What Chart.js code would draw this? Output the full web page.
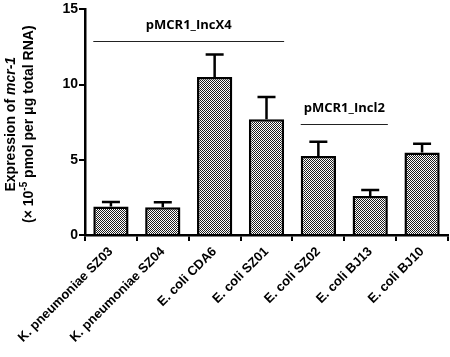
<!DOCTYPE html>
<html>
<head>
<meta charset="utf-8">
<script src="https://cdn.jsdelivr.net/npm/chart.js@4.4.1/dist/chart.umd.min.js"></script>
<style>
  body { margin: 0; background: #fff; }
  #wrap { width: 450px; height: 357px; position: relative; }
</style>
</head>
<body>
<div id="wrap"><canvas id="myChart"></canvas></div>
<script>
// strains and mcr-1 expression (x 10^-5 pmol per ug total RNA)
const strains = ['K. pneumoniae SZ03', 'K. pneumoniae SZ04', 'E. coli CDA6', 'E. coli SZ01', 'E. coli SZ02', 'E. coli BJ13', 'E. coli BJ10'];
const expression = [1.9, 1.84, 10.5, 7.7, 5.26, 2.59, 5.48];
const errUp = [0.3, 0.33, 1.5, 1.47, 0.94, 0.41, 0.59];

// plasmid groups drawn as lines over the bars
const groupNames = ['pMCR1_IncX4', 'pMCR1_Incl2'];
const groupFrom = [0, 4];
const groupTo = [3, 5];
const groupLine = [12.9, 7.41];
const groupText = [13.95, 8.4];

// fine checker fill like the original
function makePattern() {
  const c = document.createElement('canvas');
  c.width = 2; c.height = 2;
  const g = c.getContext('2d');
  g.fillStyle = '#ffffff';
  g.fillRect(0, 0, 2, 2);
  g.fillStyle = '#1e1e1e';
  g.fillRect(0, 0, 1, 1);
  g.fillRect(1, 1, 1, 1);
  return g.createPattern(c, 'repeat');
}

const errorBars = {
  id: 'errorBars',
  afterDatasetsDraw(chart) {
    const ctx = chart.ctx;
    const meta = chart.getDatasetMeta(0);
    const y = chart.scales.y;
    ctx.save();
    ctx.strokeStyle = '#000';
    ctx.lineWidth = 2.5;
    meta.data.forEach(function(bar, i) {
      const top = y.getPixelForValue(expression[i] + errUp[i]);
      ctx.beginPath();
      ctx.moveTo(bar.x, bar.y);
      ctx.lineTo(bar.x, top);
      ctx.moveTo(bar.x - 9, top);
      ctx.lineTo(bar.x + 9, top);
      ctx.stroke();
    });
    ctx.restore();
  }
};

const groupLines = {
  id: 'groupLines',
  afterDraw(chart) {
    const ctx = chart.ctx;
    const meta = chart.getDatasetMeta(0);
    const y = chart.scales.y;
    ctx.save();
    for (let i = 0; i < groupNames.length; i++) {
      const a = meta.data[groupFrom[i]];
      const b = meta.data[groupTo[i]];
      const x1 = a.x - a.width / 2;
      const x2 = b.x + b.width / 2;
      const ly = Math.round(y.getPixelForValue(groupLine[i])) + 0.5;
      ctx.strokeStyle = '#222';
      ctx.lineWidth = 1;
      ctx.beginPath();
      ctx.moveTo(x1, ly);
      ctx.lineTo(x2, ly);
      ctx.stroke();
      ctx.fillStyle = '#000';
      ctx.font = 'bold 13px "Open Sans"';
      ctx.textAlign = 'center';
      ctx.textBaseline = 'middle';
      ctx.fillText(groupNames[i], (x1 + x2) / 2, y.getPixelForValue(groupText[i]));
    }
    ctx.restore();
  }
};

// y title with italic gene name and superscript
const yTitle = {
  id: 'yTitle',
  afterDraw(chart) {
    const ctx = chart.ctx;
    const area = chart.chartArea;
    const cy = (area.top + area.bottom) / 2 + 2;
    ctx.save();
    ctx.fillStyle = '#000';
    ctx.textBaseline = 'middle';
    ctx.textAlign = 'left';
    ctx.translate(11, cy);
    ctx.rotate(-Math.PI / 2);
    const p1 = 'Expression of ', p2 = 'mcr-1';
    ctx.font = 'bold 14px Arial';
    const w1 = ctx.measureText(p1).width;
    ctx.font = 'bold italic 14px Arial';
    const w2 = ctx.measureText(p2).width;
    let x = -(w1 + w2) / 2;
    ctx.font = 'bold 14px Arial';
    ctx.fillText(p1, x, 0);
    ctx.font = 'bold italic 14px Arial';
    ctx.fillText(p2, x + w1, 0);
    ctx.restore();

    ctx.save();
    ctx.fillStyle = '#000';
    ctx.textBaseline = 'middle';
    ctx.textAlign = 'left';
    ctx.translate(29, cy);
    ctx.rotate(-Math.PI / 2);
    const s1 = '(× 10', s2 = '-5', s3 = ' pmol per μg total RNA)';
    ctx.font = 'bold 14px Arial';
    const a1 = ctx.measureText(s1).width;
    const a3 = ctx.measureText(s3).width;
    ctx.font = 'bold 10px Arial';
    const a2 = ctx.measureText(s2).width;
    x = -(a1 + a2 + a3) / 2;
    ctx.font = 'bold 14px Arial';
    ctx.fillText(s1, x, 0);
    ctx.font = 'bold 10px Arial';
    ctx.fillText(s2, x + a1, -5);
    ctx.font = 'bold 14px Arial';
    ctx.fillText(s3, x + a1 + a2, 0);
    ctx.restore();
  }
};

const data = {
  labels: strains,
  datasets: [{
    data: expression,
    backgroundColor: makePattern(),
    borderColor: '#000',
    borderWidth: 2.5,
    borderSkipped: 'bottom',
    barPercentage: 0.68,
    categoryPercentage: 1.0
  }]
};

const config = {
  type: 'bar',
  data: data,
  options: {
    responsive: true,
    maintainAspectRatio: false,
    animation: false,
    layout: { padding: { top: 2, right: 2, left: 0, bottom: 0 } },
    plugins: { legend: { display: false }, tooltip: { enabled: false } },
    scales: {
      x: {
        grid: { drawOnChartArea: false, drawTicks: true, tickLength: 6, color: '#000', lineWidth: 2 },
        border: { color: '#000', width: 2.5 },
        ticks: {
          color: '#000',
          font: { family: 'Arial', size: 13, weight: 'bold' },
          maxRotation: 45,
          minRotation: 45
        },
        afterCalculateLabelRotation(scale) { scale.labelRotation = 45; },
        afterFit(scale) { scale.height = 122; }
      },
      y: {
        min: 0, max: 15,
        grid: { drawOnChartArea: false, drawTicks: true, tickLength: 6, color: '#000', lineWidth: 2 },
        border: { color: '#000', width: 2.5 },
        ticks: {
          stepSize: 5,
          color: '#000',
          font: { family: 'Arial', size: 14, weight: 'bold' },
          padding: 1
        },
        afterFit(scale) { scale.width = 85; }
      }
    }
  },
  plugins: [errorBars, groupLines, yTitle]
};

const myChart = new Chart(document.getElementById('myChart'), config);
</script>
</body>
</html>
